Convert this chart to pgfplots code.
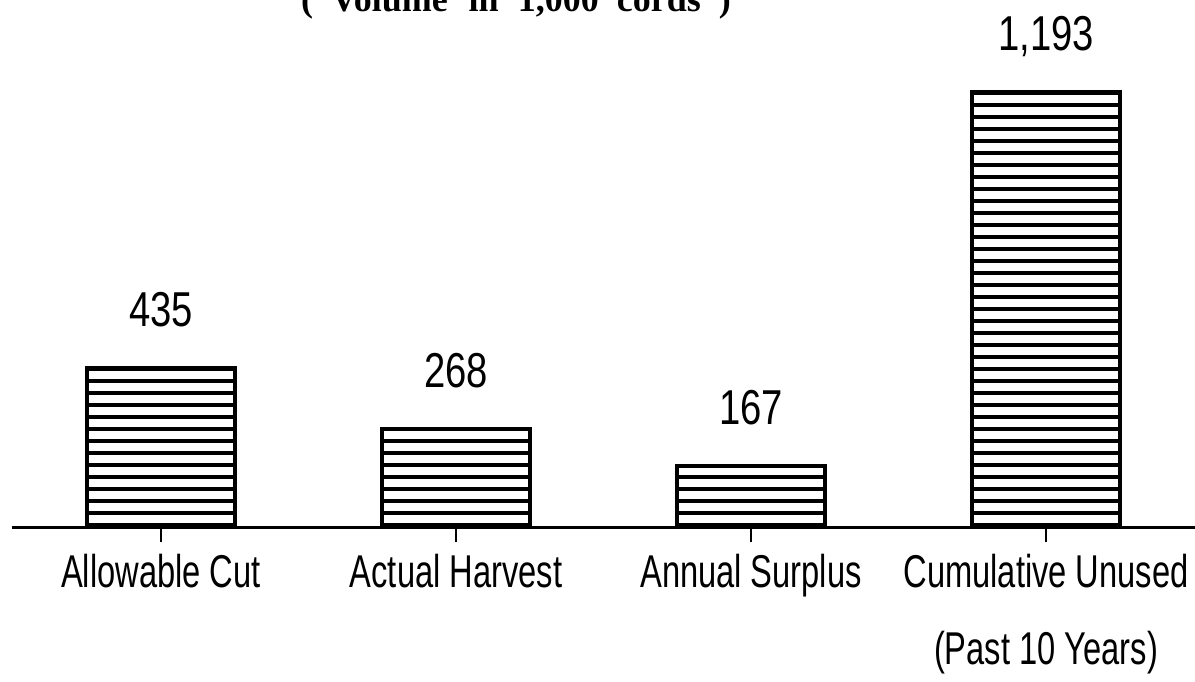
\documentclass[border=0pt]{standalone}
\usepackage{fontspec}
\setmainfont{Liberation Sans}[FakeStretch=0.71]
\newfontfamily\numfont{Liberation Sans}[FakeStretch=0.78]
\newfontfamily\titlefont{Liberation Serif}
\usepackage{pgfplots}
\pgfplotsset{compat=1.18}
\usetikzlibrary{patterns.meta}
\begin{document}
\begin{tikzpicture}
\path[use as bounding box, clip] (0,0) rectangle (597.5pt,340.5pt);
\begin{axis}[
  at={(6pt,77pt)}, anchor=south west,
  scale only axis, width=591.5pt, height=263.5pt,
  xmin=-0.505, xmax=3.505, ymin=0, ymax=1446,
  axis x line=bottom, axis y line=none,
  axis line style={-, line width=1.5pt, black},
  xtick={0,1,2,3},
  xticklabels={Allowable Cut, Actual Harvest, Annual Surplus, {Cumulative Unused\\(Past 10 Years)}},
  tick align=outside, major tick length=7.5pt,
  xtick style={line width=1.2pt, black},
  ytick=\empty,
  xticklabel style={align=center, anchor=north, inner sep=0pt, yshift=-6pt,
    font=\fontsize{23}{38.5}\selectfont},
  ybar, bar width=74pt,
  nodes near coords={\pgfplotspointmeta},
  point meta=explicit symbolic,
  every node near coord/.append style={font=\numfont\fontsize{24.5}{24.5}\selectfont, anchor=base, yshift=21pt, inner sep=0pt},
  title={(\hspace{0.5em}Volume\hspace{0.58em}in\hspace{0.53em}1,000\hspace{0.5em}cords\hspace{0.5em})},
  title style={at={(0.426,0.973)}, anchor=base, inner sep=0pt, yshift=-4.5pt, font=\titlefont\bfseries\fontsize{18}{18}\selectfont},
]
\addplot[draw=black, line width=2pt, pattern={Lines[angle=0,distance=6pt,line width=2pt]}, pattern color=black]
  coordinates {(0,435) [435] (1,268) [268] (2,167) [167] (3,1193) [{1,193}]};
\end{axis}
\end{tikzpicture}
\end{document}
